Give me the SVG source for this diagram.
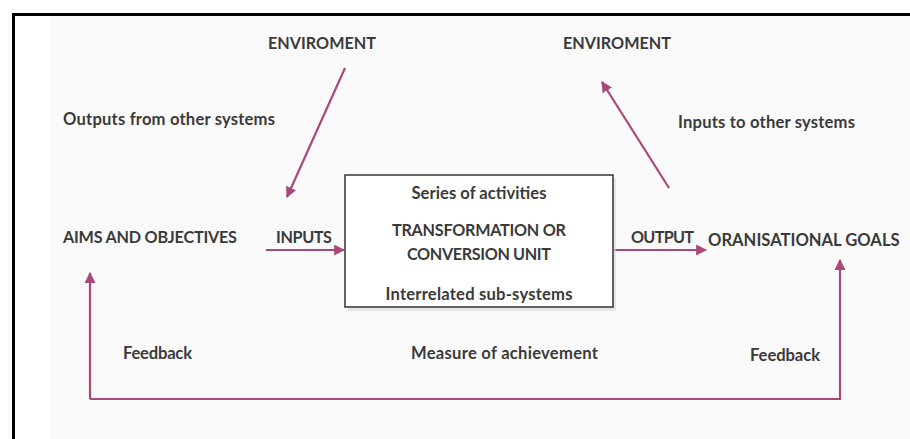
<svg xmlns="http://www.w3.org/2000/svg" width="910" height="439" viewBox="0 0 910 439">
<defs>
<style>
text{font-family:Lato,"Open Sans","Liberation Sans",sans-serif;font-weight:bold;font-size:16.6px;fill:#3a3a3a}
.cap{font-size:16.2px}
.c{text-anchor:middle}
.ln{stroke:#a8497a;stroke-width:2.2;fill:none}
</style>
<marker id="ah" viewBox="0 0 10 10" refX="9" refY="5" markerWidth="5" markerHeight="5" orient="auto" markerUnits="strokeWidth">
<path d="M0,0 L10,5 L0,10 Z" fill="#a8497a"/>
</marker>
</defs>
<rect x="0" y="0" width="910" height="439" fill="#ffffff"/>
<rect x="50" y="16" width="860" height="423" fill="#fafafa"/>
<path d="M13.5,439 V14.5 H910" fill="none" stroke="#000" stroke-width="3"/>

<g id="connectors">
<line class="ln" x1="345" y1="68" x2="287" y2="197" marker-end="url(#ah)"/>
<line class="ln" x1="669" y1="188" x2="602" y2="82" marker-end="url(#ah)"/>
<line class="ln" x1="266" y1="250" x2="344" y2="250" marker-end="url(#ah)"/>
<line class="ln" x1="614" y1="250" x2="706" y2="250" marker-end="url(#ah)"/>
<path class="ln" d="M90,399 V273" marker-end="url(#ah)"/>
<path class="ln" d="M90,399 H840 V260" marker-end="url(#ah)"/>
</g>

<g id="env-left"><text class="c cap" x="322" y="49">ENVIROMENT</text></g>
<g id="env-right"><text class="c cap" x="617" y="49">ENVIROMENT</text></g>
<g id="outputs-other"><text x="63" y="125" textLength="212">Outputs from other systems</text></g>
<g id="inputs-other"><text x="678" y="128" textLength="177">Inputs to other systems</text></g>
<g id="aims"><text class="cap" x="63" y="243" textLength="174">AIMS AND OBJECTIVES</text></g>
<g id="inputs"><text class="cap" x="276" y="243" textLength="56">INPUTS</text></g>
<g id="unit">
<rect x="348" y="178" width="268" height="133" fill="#d8d8d8" opacity="0.6"/>
<rect x="345" y="175" width="268" height="132" fill="#ffffff" stroke="#333" stroke-width="1.5"/>
<text class="c" x="479" y="199" textLength="135">Series of activities</text>
<text class="c cap" x="479" y="236" textLength="174">TRANSFORMATION OR</text>
<text class="c cap" x="479" y="260" textLength="144">CONVERSION UNIT</text>
<text class="c" x="479" y="300" textLength="187">Interrelated sub-systems</text>
</g>
<g id="output"><text class="cap" x="631" y="243" textLength="63">OUTPUT</text></g>
<g id="goals"><text x="708" y="246">ORANISATIONAL GOALS</text></g>
<g id="feedback-left"><text x="123" y="359" textLength="69">Feedback</text></g>
<g id="measure"><text x="411" y="359" textLength="187">Measure of achievement</text></g>
<g id="feedback-right"><text x="750" y="361" textLength="70">Feedback</text></g>
</svg>
